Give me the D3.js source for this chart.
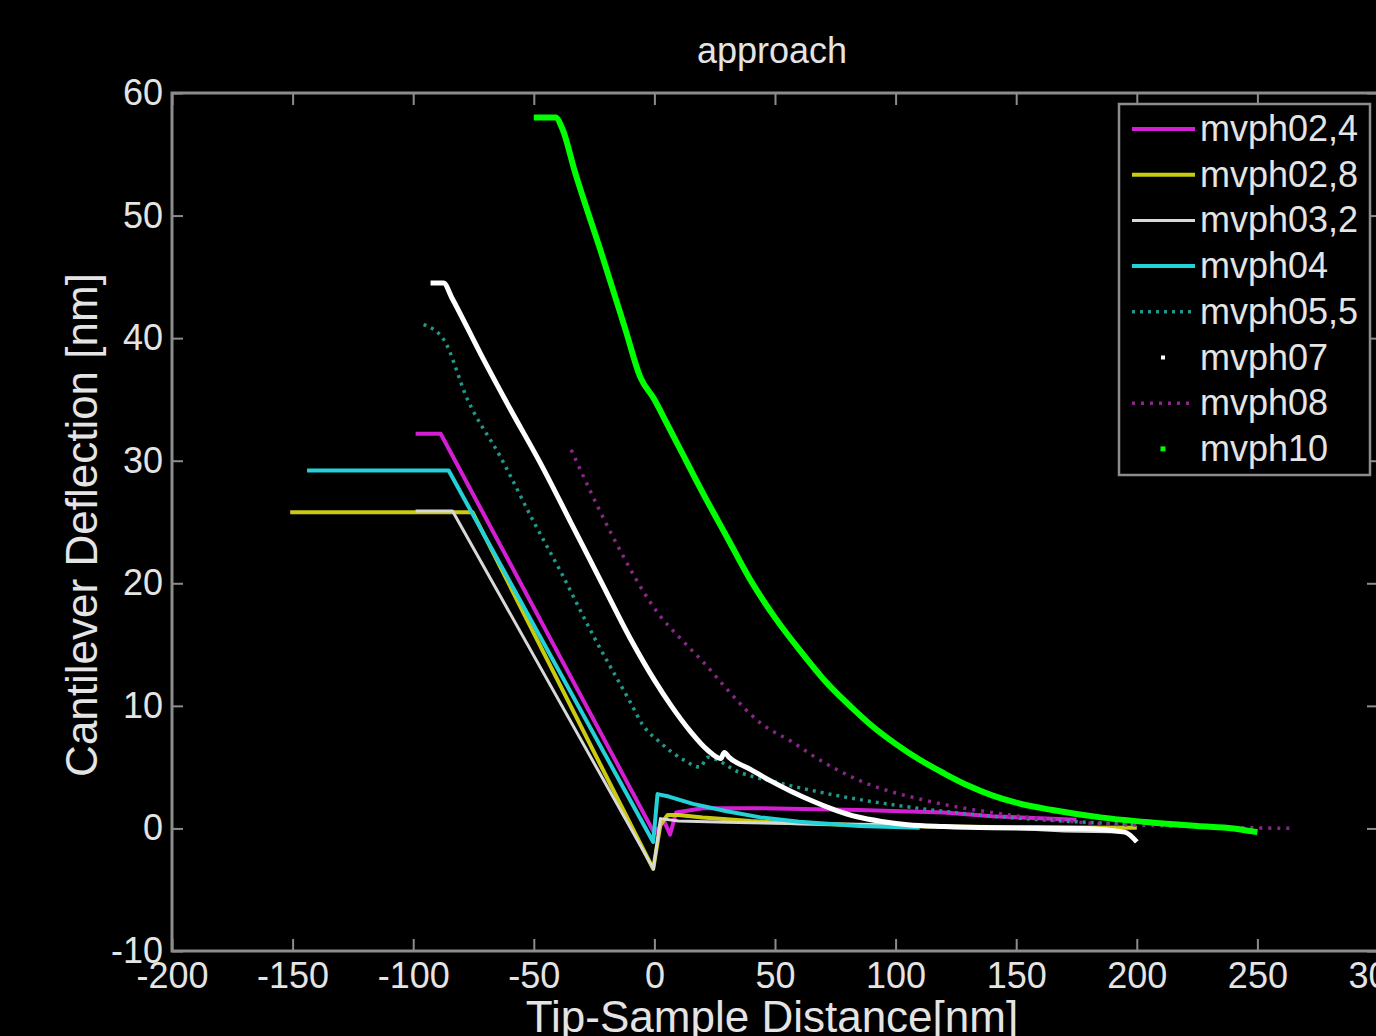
<!DOCTYPE html>
<html>
<head>
<meta charset="utf-8">
<script src="https://cdn.jsdelivr.net/npm/d3@7"></script>
<style>
  body { margin: 0; background: #000; }
  svg { display: block; }
  text { font-family: "Liberation Sans", Arial, Helvetica, sans-serif; }
</style>
</head>
<body>
<div id="chart"></div>
<script>
// legend order = drawing order
const names = ["mvph02,4", "mvph02,8", "mvph03,2", "mvph04", "mvph05,5", "mvph07", "mvph08", "mvph10"]
const xTicks = [-200, -150, -100, -50, 0, 50, 100, 150, 200, 250, 300]
const yTicks = [-10, 0, 10, 20, 30, 40, 50, 60]

// values: x = tip-sample distance [nm], y = deflection [nm]
const mvph02_4_x = [-99, -88.6, 0, 4, 6.5, 9, 20, 44, 85, 120, 140, 175]
const mvph02_4_y = [32.2, 32.2, -0.4, 0.6, -0.5, 1.3, 1.65, 1.65, 1.5, 1.3, 1.0, 0.7]

const mvph02_8_x = [-151, -75.4, -0.5, 2.5, 5.5, 10, 20, 40, 60, 80, 100, 150, 200]
const mvph02_8_y = [25.8, 25.8, -3.3, 0.3, 1.1, 1.1, 0.9, 0.6, 0.4, 0.3, 0.2, 0.1, 0.05]

const mvph03_2_x = [-99, -83.7, -0.4, 2.5, 10, 30, 60, 100, 140, 170, 195]
const mvph03_2_y = [25.9, 25.9, -3.3, 0.8, 0.6, 0.5, 0.4, 0.3, 0.1, -0.2, -0.3]

const mvph04_x = [-144, -85.3, -0.5, 1.3, 6, 16, 30, 44, 60, 85, 110]
const mvph04_y = [29.2, 29.2, -1.1, 2.8, 2.6, 2.0, 1.4, 0.9, 0.55, 0.2, 0.05]

const mvph05_5_x = [-95.7, -87.4, -77.5, -63.8, -50, -39, -25, -10, -5, 2.5, 12, 19, 22, 35, 52, 78, 100, 140, 170, 200]
const mvph05_5_y = [41.1, 39.9, 35, 30.3, 25, 21, 15.6, 10.3, 8.5, 7.0, 5.6, 5.0, 5.8, 4.6, 3.7, 2.6, 1.9, 1.0, 0.6, 0.3]

const mvph07_x = [-92.8, -87.4, -84, -72, -60, -47, -35, -22, -10, 0, 7, 15, 22, 27.5, 29, 31, 40, 48, 57, 66, 75, 84, 95, 105, 120, 140, 176, 195, 200]
const mvph07_y = [44.5, 44.5, 43.3, 38.7, 34.3, 29.7, 25.1, 20.1, 15.5, 12.1, 10, 7.9, 6.4, 5.7, 6.2, 5.8, 4.8, 3.9, 3.0, 2.2, 1.5, 0.95, 0.55, 0.3, 0.15, 0.05, 0, -0.3, -1.1]

const mvph08_x = [-34.5, -18, 2.5, 10.8, 22, 29, 44, 57.6, 66, 84, 112, 140, 176, 213, 265]
const mvph08_y = [30.9, 24.1, 17.3, 15.5, 13.2, 11.6, 8.6, 7.0, 5.9, 4.0, 2.3, 1.3, 0.5, 0.2, 0.0]

const mvph10_x = [-50, -41, -38, -33, -22.4, -12, -5.8, 0, 5, 10, 20, 30, 40, 50, 60, 70, 80, 90, 100, 110, 120, 130, 140, 150, 165, 185, 205, 225, 240, 250]
const mvph10_y = [58, 58, 57, 53.6, 47.2, 40.7, 36.8, 35, 33.1, 31.2, 27.4, 23.8, 20.2, 17.2, 14.6, 12.2, 10.2, 8.4, 6.9, 5.6, 4.5, 3.5, 2.7, 2.1, 1.5, 0.9, 0.5, 0.2, 0.0, -0.3]

const seriesX = [mvph02_4_x, mvph02_8_x, mvph03_2_x, mvph04_x, mvph05_5_x, mvph07_x, mvph08_x, mvph10_x]
const seriesY = [mvph02_4_y, mvph02_8_y, mvph03_2_y, mvph04_y, mvph05_5_y, mvph07_y, mvph08_y, mvph10_y]

// line look per series
const styles = [
  { color: "#d41ed4", width: 4, dash: null, marker: false, smooth: false },
  { color: "#caca10", width: 4, dash: null, marker: false, smooth: false },
  { color: "#d8d8d8", width: 3, dash: null, marker: false, smooth: false },
  { color: "#22d2d8", width: 4, dash: null, marker: false, smooth: false },
  { color: "#22988c", width: 3.5, dash: "3,5", marker: false, smooth: true },
  { color: "#ffffff", width: 5, dash: null, marker: true, smooth: true },
  { color: "#8a268a", width: 3.5, dash: "3,6", marker: false, smooth: true },
  { color: "#00ff00", width: 6, dash: null, marker: true, smooth: true }
]

window.onload = () => {
  var width = 1376,
    height = 1036
  var left = 172, right = 1378, top = 93, bottom = 951
  var axisColor = "#8c8c8c", textColor = "#e4e4e4"

  var x = d3.scaleLinear().domain([-200, 300]).range([left, right])
  var y = d3.scaleLinear().domain([-10, 60]).range([bottom, top])

  var svg = d3.select("#chart")
    .append("svg")
    .attr("width", width)
    .attr("height", height)
    .style("background", "#000")

  svg.append("defs").append("clipPath")
    .attr("id", "plot")
    .append("rect")
    .attr("x", left).attr("y", top)
    .attr("width", right - left).attr("height", bottom - top)

  // the curves
  var straight = d3.line().x(d => x(d[0])).y(d => y(d[1]))
  var smooth = d3.line().x(d => x(d[0])).y(d => y(d[1])).curve(d3.curveMonotoneX)

  var curves = svg.append("g").attr("clip-path", "url(#plot)")
  names.forEach((name, i) => {
    var pts = seriesX[i].map((v, j) => [v, seriesY[i][j]])
    var s = styles[i]
    curves.append("path")
      .datum(pts)
      .attr("d", s.smooth ? smooth : straight)
      .attr("fill", "none")
      .attr("stroke", s.color)
      .attr("stroke-width", s.width)
      .attr("stroke-linejoin", "round")
      .attr("stroke-dasharray", s.dash)
  })

  // axes: ticks inward on all four sides, labels on bottom/left only
  function styleAxis(g, showText) {
    g.select(".domain").remove()
    g.selectAll("line").attr("stroke", axisColor).attr("stroke-width", 2)
    g.attr("font-family", null).attr("font-size", 36)
    g.selectAll("text").attr("fill", textColor)
    if (!showText) g.selectAll("text").remove()
  }
  var plain = d => String(d)  // hyphen minus like the original, not U+2212

  svg.append("g")
    .attr("transform", "translate(0," + bottom + ")")
    .call(d3.axisBottom(x).tickValues(xTicks).tickFormat(plain).tickSizeInner(-12).tickSizeOuter(0).tickPadding(11))
    .call(g => styleAxis(g, true))
  svg.append("g")
    .attr("transform", "translate(0," + top + ")")
    .call(d3.axisTop(x).tickValues(xTicks).tickSizeInner(-12).tickSizeOuter(0))
    .call(g => styleAxis(g, false))
  svg.append("g")
    .attr("transform", "translate(" + left + ",0)")
    .call(d3.axisLeft(y).tickValues(yTicks).tickFormat(plain).tickSizeInner(-11).tickSizeOuter(0).tickPadding(9))
    .call(g => styleAxis(g, true))
  svg.append("g")
    .attr("transform", "translate(" + right + ",0)")
    .call(d3.axisRight(y).tickValues(yTicks).tickSizeInner(-11).tickSizeOuter(0))
    .call(g => styleAxis(g, false))

  svg.append("rect")
    .attr("x", left).attr("y", top)
    .attr("width", right - left).attr("height", bottom - top)
    .attr("fill", "none")
    .attr("stroke", axisColor)
    .attr("stroke-width", 3)

  // titles
  svg.append("text")
    .attr("x", 772).attr("y", 63)
    .attr("text-anchor", "middle")
    .attr("font-size", 36)
    .attr("fill", textColor)
    .text("approach")

  svg.append("text")
    .attr("x", 772).attr("y", 1032)
    .attr("text-anchor", "middle")
    .attr("font-size", 44)
    .attr("fill", textColor)
    .text("Tip-Sample Distance[nm]")

  svg.append("text")
    .attr("transform", "translate(97,525) rotate(-90)")
    .attr("text-anchor", "middle")
    .attr("font-size", 44)
    .attr("fill", textColor)
    .text("Cantilever Deflection [nm]")

  // legend
  var legend = svg.append("g").attr("transform", "translate(1119,104)")
  legend.append("rect")
    .attr("width", 251).attr("height", 371)
    .attr("fill", "#000")
    .attr("stroke", axisColor)
    .attr("stroke-width", 2.5)

  var item = legend.selectAll("g.item")
    .data(names)
    .enter()
    .append("g")
    .attr("class", "item")
    .attr("transform", (d, i) => "translate(0," + (25 + i * 45.7) + ")")

  item.each(function (d, i) {
    var s = styles[i]
    var g = d3.select(this)
    if (s.marker) {
      g.append("rect")
        .attr("x", 44 - s.width / 2 + 0.5).attr("y", -s.width / 2 + 0.5)
        .attr("width", s.width - 1).attr("height", s.width - 1)
        .attr("fill", s.color)
    } else {
      g.append("line")
        .attr("x1", 13).attr("x2", 76)
        .attr("stroke", s.color)
        .attr("stroke-width", s.width)
        .attr("stroke-dasharray", s.dash)
    }
  })

  item.append("text")
    .attr("x", 81).attr("y", 12)
    .attr("font-size", 36)
    .attr("fill", textColor)
    .text(d => d)
}
</script>
</body>
</html>
